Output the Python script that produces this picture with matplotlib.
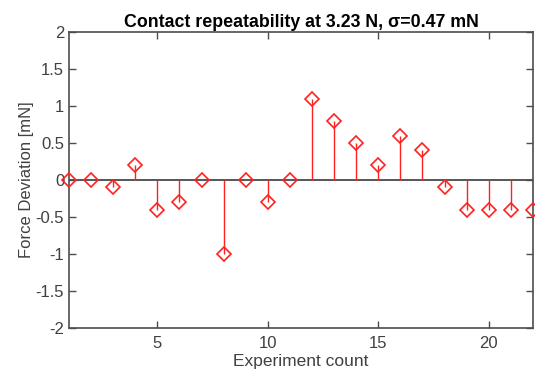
import matplotlib
matplotlib.use('Agg')
import matplotlib.pyplot as plt
import numpy as np

plt.rcParams['font.family'] = ['Liberation Sans', 'DejaVu Sans']

experiment = list(range(1, 23))
deviation = [0, 0, -0.1, 0.2, -0.4, -0.3, 0, -1.0, 0, -0.3, 0,
             1.1, 0.8, 0.5, 0.2, 0.6, 0.4, -0.1, -0.4, -0.4, -0.4, -0.4]
x_ticks = [5, 10, 15, 20]
y_ticks = [-2, -1.5, -1, -0.5, 0, 0.5, 1, 1.5, 2]

axis_color = '#4d4d4d'
red = '#ff2020'

fig = plt.figure(figsize=(5.35, 3.74), dpi=100)
ax = fig.add_axes([0.129, 0.123, 0.867, 0.791])

ax.axhline(0, color='#3a3a3a', lw=1.2, zorder=1)
markerline, stemlines, baseline = ax.stem(experiment, deviation, basefmt=' ')
plt.setp(stemlines, color=red, lw=1.0)
plt.setp(markerline, marker='D', markersize=7, markerfacecolor='none',
         markeredgecolor=red, markeredgewidth=1.2, clip_on=False)
stemlines.set_zorder(2)
markerline.set_zorder(3)

ax.set_xlim(1, 22)
ax.set_ylim(-2, 2)
ax.set_xticks(x_ticks)
ax.set_yticks(y_ticks)
ax.set_yticklabels(['-2', '-1.5', '-1', '-0.5', '0', '0.5', '1', '1.5', '2'])

for s in ax.spines.values():
    s.set_color(axis_color)
    s.set_linewidth(1.2)
ax.tick_params(direction='in', top=True, right=True, length=5, width=1,
               colors=axis_color, labelsize=12, labelcolor='#404040')
ax.tick_params(axis='x', pad=6)

ax.set_xlabel('Experiment count', fontsize=12.5, color='#404040', labelpad=2)
ax.set_ylabel('Force Deviation [mN]', fontsize=12, color='#404040', labelpad=1)
ax.set_title('Contact repeatability at 3.23 N, σ=0.47 mN', fontsize=12.8,
             fontweight='bold', color='black', pad=4)

fig.savefig('out.png', dpi=100)
